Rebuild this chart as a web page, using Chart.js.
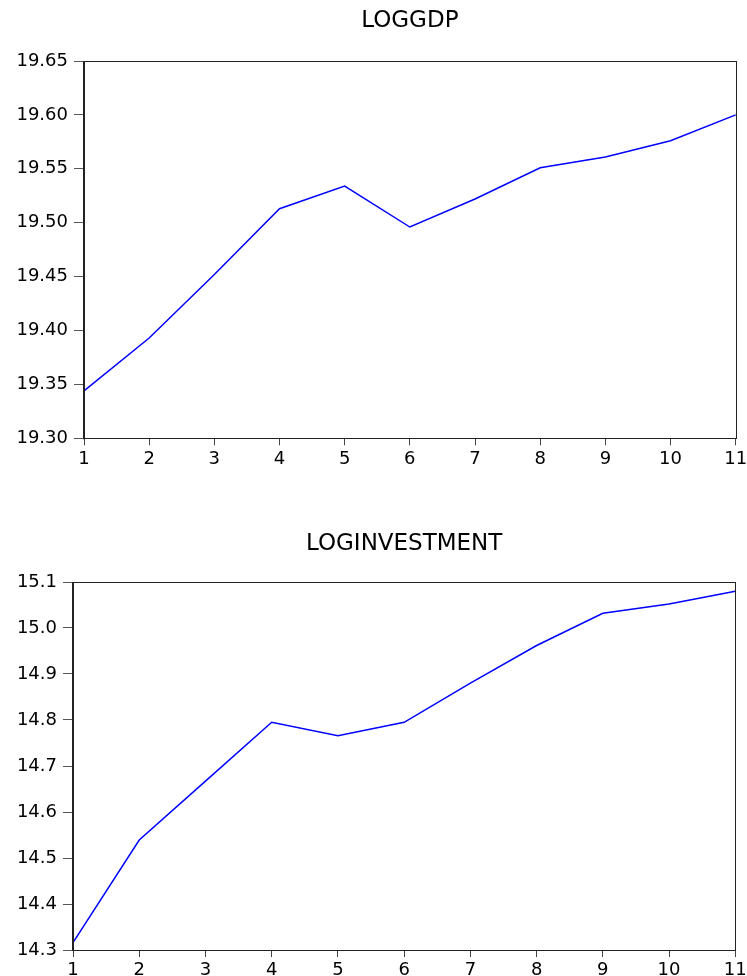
<!DOCTYPE html>
<html>
<head>
<meta charset="utf-8">
<script src="https://cdn.jsdelivr.net/npm/chart.js@4/dist/chart.umd.min.js"></script>
<style>
  html, body { margin: 0; padding: 0; background: #ffffff; }
  body { width: 747px; height: 976px; position: relative; overflow: hidden; }
  canvas { position: absolute; left: 0; }
  #c1 { top: 0px; }
  #c2 { top: 500px; }
</style>
</head>
<body>
<canvas id="c1" width="747" height="480"></canvas>
<canvas id="c2" width="747" height="476"></canvas>
<script>
// ---- data ----
const categories = ['1', '2', '3', '4', '5', '6', '7', '8', '9', '10', '11'];
const logGdp = [19.344, 19.393, 19.452, 19.513, 19.534, 19.496, 19.522, 19.551, 19.561, 19.576, 19.600];
const logInvestment = [14.316, 14.539, 14.667, 14.795, 14.766, 14.795, 14.880, 14.962, 15.032, 15.052, 15.080];
const gdpTitle = 'LOGGDP';
const invTitle = 'LOGINVESTMENT';
const gdpTicks = { min: 19.30, max: 19.65, step: 0.05, decimals: 2 };
const invTicks = { min: 14.3, max: 15.1, step: 0.1, decimals: 1 };

const FONT = "'DejaVu Sans', 'Liberation Sans', Arial, sans-serif";

const framePlugin = {
  id: 'frame',
  afterDraw(chart) {
    const a = chart.chartArea;
    const ctx = chart.ctx;
    ctx.save();
    ctx.strokeStyle = '#222222';
    ctx.lineWidth = 1;
    ctx.strokeRect(Math.round(a.left) + 0.5, Math.round(a.top) + 0.5,
                   Math.round(a.right - a.left), Math.round(a.bottom - a.top));
    ctx.lineWidth = 2;
    ctx.beginPath();
    ctx.moveTo(Math.round(a.left), a.top);
    ctx.lineTo(Math.round(a.left), a.bottom + 1);
    ctx.stroke();
    ctx.restore();
  }
};

function makeChart(id, title, values, tk, geom) {
  const ctx = document.getElementById(id).getContext('2d');
  return new Chart(ctx, {
    type: 'line',
    data: {
      labels: categories,
      datasets: [{
        label: title,
        data: values,
        borderColor: '#0000ff',
        borderWidth: 1.5,
        pointRadius: 0,
        tension: 0,
        fill: false
      }]
    },
    options: {
      responsive: false,
      animation: false,
      layout: { padding: { left: 0, right: geom.right, top: 0, bottom: 0 } },
      plugins: {
        legend: { display: false },
        tooltip: { enabled: false },
        title: {
          display: true,
          text: title,
          fullSize: false,
          color: '#000000',
          font: { family: FONT, size: 23, weight: 'normal', lineHeight: 1.2 },
          padding: { top: geom.titleTop, bottom: geom.titleBottom }
        }
      },
      scales: {
        x: {
          type: 'category',
          offset: false,
          border: { display: false },
          grid: { display: true, drawOnChartArea: false, drawTicks: true, tickLength: 7, color: '#444444', lineWidth: 1 },
          ticks: { color: '#000000', font: { family: FONT, size: 18 }, padding: 3, maxRotation: 0, autoSkip: false },
          afterFit(scale) { scale.height = geom.xHeight; scale.paddingLeft = 0; scale.paddingRight = 0; }
        },
        y: {
          type: 'linear',
          min: tk.min,
          max: tk.max,
          border: { display: false },
          grid: { display: true, drawOnChartArea: false, drawTicks: true, tickLength: 10, color: '#555555', lineWidth: 1 },
          ticks: {
            stepSize: tk.step,
            color: '#000000',
            font: { family: FONT, size: 18 },
            padding: 6,
            callback: (v) => Number(v).toFixed(tk.decimals)
          },
          afterFit(scale) { scale.width = geom.yWidth; scale.paddingTop = 0; scale.paddingBottom = 0; }
        }
      }
    },
    plugins: [framePlugin]
  });
}

makeChart('c1', gdpTitle, logGdp, gdpTicks, {
  right: 11.3, yWidth: 84, xHeight: 41.7, titleTop: 7, titleBottom: 26.4
});
makeChart('c2', invTitle, logInvestment, invTicks, {
  right: 11.7, yWidth: 73, xHeight: 26, titleTop: 30.4, titleBottom: 24.0
});
</script>
</body>
</html>
